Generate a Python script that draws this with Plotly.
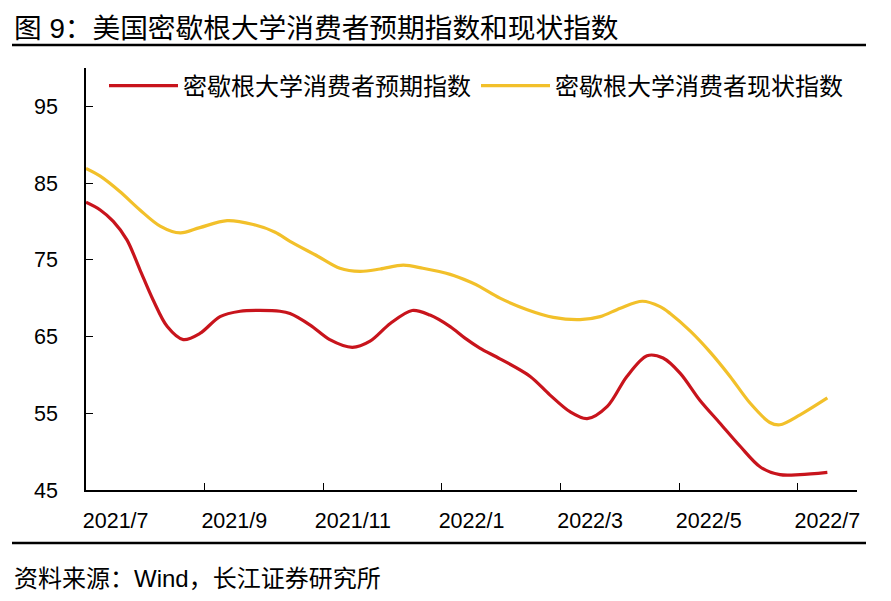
import plotly.graph_objects as go

# x positions in months since 2021/7 (axis start)
red_x = [0.00, 0.24, 0.46, 0.69, 0.91, 1.13, 1.37, 1.64, 1.92, 2.26, 2.60, 2.93, 3.27, 3.44,
         3.78, 4.11, 4.49, 4.79, 5.13, 5.50, 5.80, 6.14, 6.39, 6.64, 6.98, 7.49, 7.82, 8.16,
         8.45, 8.79, 9.12, 9.46, 9.73, 10.02, 10.35, 10.69, 11.03, 11.37, 11.70, 12.04, 12.50]
red_y = [82.5, 81.5, 80.0, 77.6, 73.7, 69.8, 66.3, 64.6, 65.4, 67.6, 68.3, 68.4, 68.3, 68.0,
         66.5, 64.6, 63.6, 64.4, 66.7, 68.4, 67.8, 66.3, 64.8, 63.5, 62.1, 59.8, 57.4, 55.2,
         54.3, 55.9, 59.8, 62.5, 62.2, 60.2, 56.7, 53.7, 50.7, 48.0, 47.0, 47.0, 47.3]

yel_x = [0.00, 0.24, 0.57, 0.91, 1.25, 1.59, 1.92, 2.38, 2.82, 3.19, 3.44, 3.90, 4.28, 4.62,
         4.96, 5.35, 5.68, 6.14, 6.48, 6.64, 6.98, 7.44, 7.88, 8.33, 8.67, 9.01, 9.38, 9.68,
         9.85, 10.19, 10.52, 10.86, 11.20, 11.53, 11.70, 12.04, 12.50]
yel_y = [86.9, 85.9, 83.9, 81.5, 79.4, 78.5, 79.2, 80.1, 79.6, 78.6, 77.4, 75.5, 73.9, 73.5,
         73.8, 74.3, 73.9, 73.1, 72.1, 71.5, 70.0, 68.5, 67.5, 67.2, 67.6, 68.7, 69.6, 68.9,
         68.0, 65.7, 63.0, 59.8, 56.3, 53.8, 53.5, 54.8, 57.0]

series_names = ["密歇根大学消费者预期指数", "密歇根大学消费者现状指数"]
tick_labels = ["2021/7", "2021/9", "2021/11", "2022/1", "2022/3", "2022/5", "2022/7"]
label_pos = [0.5, 2.5, 4.5, 6.5, 8.5, 10.5, 12.5]
tick_pos = [0, 2, 4, 6, 8, 10, 12]
y_ticks = [45, 55, 65, 75, 85, 95]

title_text = "图 9：美国密歇根大学消费者预期指数和现状指数"
source_text = "资料来源：Wind，长江证券研究所"

RED = "#C8141C"
YEL = "#F2C02A"
FONT = "Liberation Sans, Noto Sans CJK SC"

# page is offset by the default 8px body margin
OFF = 8
W, H = 891 - OFF, 601 - OFF
# target screen positions of the plot area
SL, SR, ST, SB = 86, 857, 68, 490
L, T = SL - OFF, ST - OFF
R = W - (SR - OFF)
B = H - (SB - OFF)
pw, ph = W - L - R, H - T - B


def sx(px):
    return (px - SL) / pw


def sy(py):
    return (SB - py) / ph


fig = go.Figure()
fig.add_trace(go.Scatter(x=red_x, y=red_y, mode="lines", name=series_names[0],
                         line=dict(color=RED, width=3.2, shape="spline", smoothing=0.9)))
fig.add_trace(go.Scatter(x=yel_x, y=yel_y, mode="lines", name=series_names[1],
                         line=dict(color=YEL, width=3.2, shape="spline", smoothing=0.9)))
# invisible trace to activate the tick-mark axis
fig.add_trace(go.Scatter(x=[0, 13], y=[None, None], xaxis="x2", showlegend=False,
                         hoverinfo="skip"))

fig.update_layout(
    width=W, height=H,
    margin=dict(l=L, r=R, t=T, b=B),
    paper_bgcolor="white", plot_bgcolor="white",
    font=dict(family=FONT, color="black", size=21),
    xaxis=dict(range=[0, 13], tickvals=label_pos, ticktext=tick_labels, ticks="",
               showline=True, linecolor="black", linewidth=1.5, showgrid=False,
               zeroline=False, tickfont=dict(size=21.5, family=FONT), ticklabelstandoff=10),
    xaxis2=dict(range=[0, 13], overlaying="x", side="bottom", tickvals=tick_pos,
                ticks="inside", ticklen=7, tickwidth=1.3, tickcolor="black",
                showticklabels=False, showline=False, showgrid=False, zeroline=False),
    yaxis=dict(range=[45, 100], tickvals=y_ticks, ticks="inside", ticklen=7, tickwidth=1.3,
               tickcolor="black", showline=True, linecolor="black", linewidth=1.5,
               showgrid=False, zeroline=False, tickfont=dict(size=21.5, family=FONT),
               ticklabelstandoff=22),
    legend=dict(orientation="h", x=sx(104), y=sy(86), xanchor="left",
                yanchor="middle", font=dict(size=24, family=FONT), bgcolor="rgba(0,0,0,0)",
                itemwidth=69, tracegroupgap=0),
    showlegend=True,
    shapes=[
        dict(type="line", xref="paper", yref="paper", x0=sx(12), x1=sx(866),
             y0=sy(45), y1=sy(45), line=dict(color="black", width=2.5)),
        dict(type="line", xref="paper", yref="paper", x0=sx(12), x1=sx(866),
             y0=sy(543), y1=sy(543), line=dict(color="black", width=2.5)),
    ],
    annotations=[
        dict(text=title_text, xref="paper", yref="paper", x=sx(12), y=sy(29),
             xanchor="left", yanchor="middle", showarrow=False,
             font=dict(size=27.7, family=FONT)),
        dict(text=source_text, xref="paper", yref="paper", x=sx(12), y=sy(578),
             xanchor="left", yanchor="middle", showarrow=False,
             font=dict(size=24, family=FONT)),
    ],
)

fig.write_html("out.html")
